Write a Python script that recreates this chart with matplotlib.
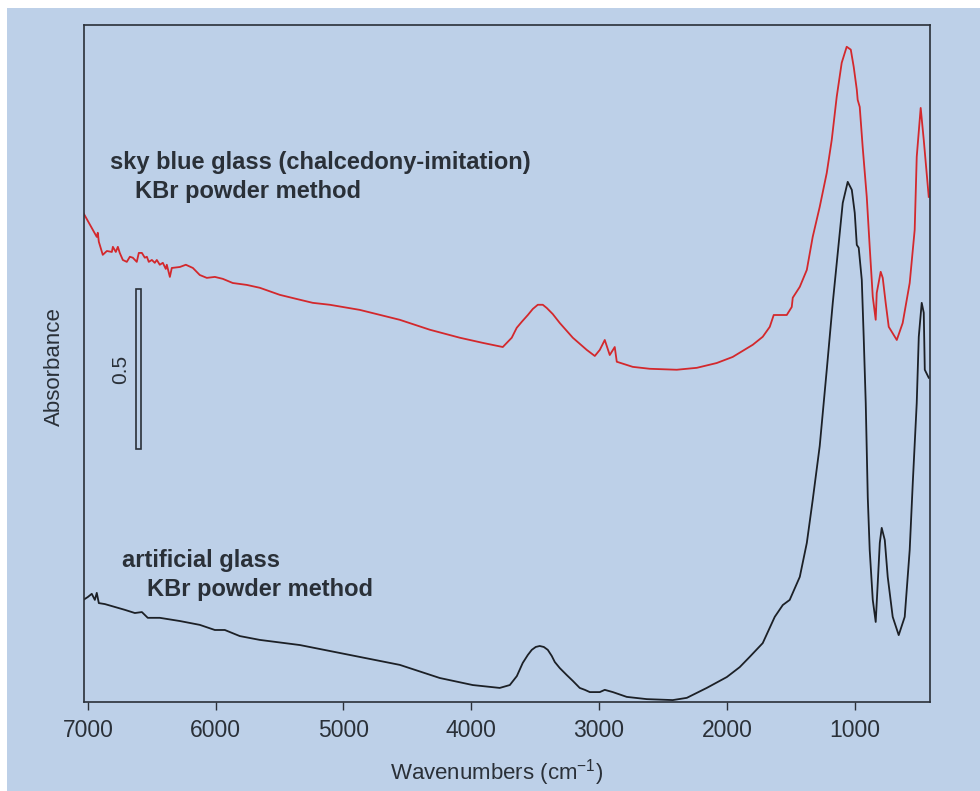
import numpy as np
import matplotlib.pyplot as plt
from matplotlib.patches import Rectangle

plt.rcParams['font.family'] = ['Liberation Sans', 'DejaVu Sans']
plt.rcParams['mathtext.fontset'] = 'custom'
plt.rcParams['mathtext.rm'] = 'Liberation Sans'

# -----------------------------
# DATA
# -----------------------------
red_wn = [7035, 6930, 6922, 6914, 6883, 6851, 6812, 6804, 6781, 6765, 6750, 6726,
          6695, 6671, 6648, 6617, 6601, 6577, 6554, 6538, 6523, 6499, 6476, 6460,
          6437, 6413, 6390, 6382, 6358, 6343, 6280, 6233, 6178, 6124, 6069, 6006,
          5944, 5866, 5756, 5654, 5498, 5365, 5240, 5107, 4872, 4559, 4324, 4089,
          3910, 3753, 3683, 3644, 3604, 3557, 3518, 3479, 3440, 3409, 3362, 3307,
          3205, 3096, 3033, 2994, 2955, 2916, 2877, 2861, 2736, 2603, 2392, 2235,
          2079, 1954, 1797, 1719, 1664, 1633, 1586, 1531, 1492, 1484, 1429, 1374,
          1328, 1273, 1218, 1179, 1140, 1101, 1062, 1030, 1007, 983, 976, 960,
          937, 905, 882, 858, 835, 827, 796, 780, 757, 733, 670, 624, 569, 530,
          514, 483, 459, 420]
red_abs = [1.528, 1.453, 1.466, 1.438, 1.397, 1.409, 1.406, 1.422, 1.406, 1.422, 1.403, 1.381,
           1.375, 1.391, 1.388, 1.375, 1.403, 1.403, 1.388, 1.391, 1.375, 1.381, 1.372, 1.381,
           1.366, 1.372, 1.353, 1.366, 1.328, 1.356, 1.359, 1.366, 1.356, 1.334, 1.325, 1.328,
           1.322, 1.309, 1.303, 1.294, 1.272, 1.259, 1.247, 1.241, 1.225, 1.194, 1.163, 1.138,
           1.122, 1.109, 1.138, 1.169, 1.188, 1.209, 1.228, 1.241, 1.241, 1.231, 1.212, 1.184,
           1.138, 1.100, 1.081, 1.100, 1.131, 1.084, 1.109, 1.063, 1.047, 1.041, 1.038, 1.044,
           1.059, 1.078, 1.116, 1.141, 1.172, 1.209, 1.209, 1.209, 1.234, 1.263, 1.297, 1.350,
           1.453, 1.547, 1.653, 1.756, 1.891, 1.997, 2.047, 2.038, 1.984, 1.913, 1.881, 1.859,
           1.734, 1.578, 1.422, 1.266, 1.194, 1.278, 1.344, 1.325, 1.247, 1.172, 1.131, 1.184,
           1.309, 1.475, 1.703, 1.856, 1.756, 1.578]

black_wn = [7035, 7000, 6969, 6945, 6930, 6914, 6867, 6789, 6711, 6632, 6577, 6531,
            6437, 6280, 6124, 6006, 5928, 5811, 5654, 5341, 4950, 4559, 4246, 3988,
            3777, 3698, 3643, 3597, 3557, 3526, 3495, 3464, 3432, 3401, 3370, 3346,
            3307, 3252, 3205, 3151, 3111, 3072, 2994, 2955, 2892, 2783, 2626, 2423,
            2313, 2157, 2000, 1899, 1821, 1719, 1625, 1562, 1508, 1429, 1374, 1328,
            1273, 1218, 1171, 1132, 1093, 1054, 1022, 999, 983, 968, 944, 929,
            913, 897, 882, 858, 835, 819, 803, 788, 764, 741, 702, 655, 608, 569,
            545, 514, 498, 475, 459, 451, 420]
black_abs = [0.319, 0.328, 0.338, 0.319, 0.341, 0.309, 0.306, 0.297, 0.288, 0.278, 0.281, 0.263,
             0.263, 0.253, 0.241, 0.225, 0.225, 0.206, 0.194, 0.178, 0.147, 0.116, 0.075, 0.053,
             0.044, 0.053, 0.081, 0.122, 0.147, 0.163, 0.172, 0.175, 0.172, 0.163, 0.144, 0.125,
             0.106, 0.084, 0.066, 0.044, 0.038, 0.031, 0.031, 0.038, 0.031, 0.016, 0.009, 0.006,
             0.013, 0.044, 0.078, 0.109, 0.141, 0.184, 0.266, 0.303, 0.319, 0.391, 0.497, 0.631,
             0.800, 1.038, 1.247, 1.403, 1.559, 1.625, 1.600, 1.528, 1.428, 1.419, 1.319, 1.141,
             0.934, 0.638, 0.475, 0.319, 0.250, 0.372, 0.497, 0.544, 0.506, 0.391, 0.266, 0.209,
             0.266, 0.475, 0.684, 0.934, 1.141, 1.247, 1.216, 1.038, 1.013]

xticks = [7000, 6000, 5000, 4000, 3000, 2000, 1000]

# -----------------------------
# COLOURS
# -----------------------------
bg = '#bdd0e8'
ink = '#2a3038'

fig = plt.figure(figsize=(9.8, 7.91), dpi=100, facecolor='white')
# light blue page, thin white strip at top/left from the scan
fig.patches.append(Rectangle((0.007, 0), 0.993, 0.99, transform=fig.transFigure,
                             facecolor=bg, edgecolor='none', zorder=-10))

ax = fig.add_axes([0.0857, 0.1125, 0.8633, 0.8559])
ax.set_facecolor(bg)

ax.plot(red_wn, red_abs, color='#d3282c', lw=1.3, solid_joinstyle='round')
ax.plot(black_wn, black_abs, color='#1c2026', lw=1.3, solid_joinstyle='round')

ax.set_xlim(7030, 410)
ax.set_ylim(0, 2.115)
ax.set_xticks(xticks)
ax.set_yticks([])
ax.tick_params(axis='x', direction='out', length=6, width=1, color=ink,
               labelsize=16.5, labelcolor=ink, pad=6)
for s in ax.spines.values():
    s.set_color(ink)
    s.set_linewidth(1.2)

ax.set_xlabel('Wavenumbers (cm$^{-1}$)', fontsize=16, color=ink)
ax.xaxis.set_label_coords(0.488, -0.082)
ax.set_ylabel('Absorbance', fontsize=16, color=ink)
ax.yaxis.set_label_coords(-0.0225, 0.495)

# scale bar, 0.5 absorbance units
ax.add_patch(Rectangle((6624, 0.789), -39, 0.5, facecolor='none', edgecolor=ink, lw=1.2))
ax.text(6742, 1.038, '0.5', rotation=90, fontsize=15, color=ink, ha='center', va='center')

# sample labels
ax.text(6828, 1.684, 'sky blue glass (chalcedony-imitation)', fontsize=17,
        fontweight='bold', color=ink, va='center')
ax.text(6632, 1.594, 'KBr powder method', fontsize=17, fontweight='bold',
        color=ink, va='center')
ax.text(6734, 0.441, 'artificial glass', fontsize=17, fontweight='bold',
        color=ink, va='center')
ax.text(6538, 0.353, 'KBr powder method', fontsize=17, fontweight='bold',
        color=ink, va='center')

fig.savefig('out.png', dpi=100, facecolor=fig.get_facecolor())
